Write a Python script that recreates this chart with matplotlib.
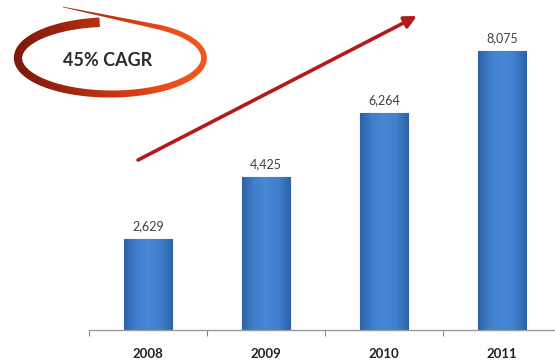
import numpy as np
import matplotlib.pyplot as plt
from matplotlib.patches import FancyArrowPatch, Polygon
from matplotlib.colors import LinearSegmentedColormap

years = ["2008", "2009", "2010", "2011"]
values = [2629, 4425, 6264, 8075]
cagr_label = "45% CAGR"

W, H = 555, 363
plt.rcParams['font.family'] = ['Lato', 'DejaVu Sans']

fig = plt.figure(figsize=(W / 100, H / 100), dpi=100)
fig.patch.set_facecolor('white')

# main bar axes (pixel layout: baseline at y=330, left boundary x=89)
ax = fig.add_axes([89 / W, 33 / H, 472 / W, 330 / H])
x = np.arange(len(years))
bars = ax.bar(x, values, width=0.41, color='#3b78c6', edgecolor='#2a5c9c',
              linewidth=0.8, zorder=2)

# shaded face for each bar, a little darker at the sides
shade = LinearSegmentedColormap.from_list(
    'shade', ['#2d62a8', '#3f7fcd', '#4787d4', '#3f7fcd', '#2d62a8'])
grad = np.linspace(0, 1, 64).reshape(1, -1)
for b in bars:
    x0, w, h = b.get_x(), b.get_width(), b.get_height()
    im = ax.imshow(grad, cmap=shade, extent=(x0, x0 + w, 0, h),
                   aspect='auto', zorder=2.5, interpolation='bicubic')
    im.set_clip_path(b)

for xi, v in zip(x, values):
    ax.annotate(f"{v:,}", (xi, v), xytext=(0, 5), textcoords='offset points',
                ha='center', va='bottom', fontsize=9, color='#404040')

ax.set_xlim(-0.5, 3.5)
ax.set_ylim(0, 9540)
ax.set_xticks(x)
ax.set_xticklabels(years, fontsize=9.5, fontweight='bold', color='#222222')
ax.tick_params(axis='x', which='major', length=0, pad=13)
ax.set_xticks(np.arange(-0.5, 4, 1), minor=True)
ax.tick_params(axis='x', which='minor', length=4, width=0.8,
               color='#888888', direction='out')
ax.set_yticks([])
for s in ['top', 'right', 'left']:
    ax.spines[s].set_visible(False)
ax.spines['bottom'].set_color('#999999')
ax.spines['bottom'].set_linewidth(1.0)
ax.patch.set_alpha(0)

# overlay in pixel coordinates for the growth arrow and the swoosh
ov = fig.add_axes([0, 0, 1, 1])
ov.set_xlim(0, W)
ov.set_ylim(H, 0)
ov.axis('off')
ov.patch.set_alpha(0)

arrow = FancyArrowPatch((138, 160), (417, 16), arrowstyle='-|>',
                        mutation_scale=18, color='#b31b1b', lw=2.6,
                        shrinkA=0, shrinkB=0)
ov.add_patch(arrow)

# swoosh: elliptical stroke with a tapering tail, built as a filled outline
cx, cy, a, b = 111, 58, 93, 36
t = np.radians(np.linspace(97, 418.7, 300))
ex = cx + a * np.cos(t)
ey = cy - b * np.sin(t)
tail_x = np.linspace(ex[-1], 63, 60)[1:]
tail_y = np.linspace(ey[-1], 7, 60)[1:]
px = np.concatenate([ex, tail_x])
py = np.concatenate([ey, tail_y])
frac = np.linspace(0, 1, len(px))
half = np.where(frac < 0.83, 9.5 - 4.5 * frac / 0.83,
                5.0 - 4.4 * (frac - 0.83) / 0.17) / 2
dx = np.gradient(px)
dy = np.gradient(py)
norm = np.hypot(dx, dy)
nx, ny = -dy / norm, dx / norm
outer = np.column_stack([px + nx * half, py + ny * half])
inner = np.column_stack([px - nx * half, py - ny * half])
outline = np.vstack([outer, inner[::-1]])
poly = Polygon(outline, closed=True, facecolor='none', edgecolor='none')
ov.add_patch(poly)
swoosh_cmap = LinearSegmentedColormap.from_list(
    'swoosh', ['#7a180c', '#9c2410', '#c8350f', '#ea4a1a', '#f45a22'])
sg = np.linspace(0, 1, 128).reshape(1, -1)
sim = ov.imshow(sg, cmap=swoosh_cmap, extent=(10, 215, 100, 0),
                aspect='auto', interpolation='bicubic', zorder=3)
sim.set_clip_path(poly)
ov.set_xlim(0, W)
ov.set_ylim(H, 0)

ov.text(108, 60, cagr_label, ha='center', va='center', fontsize=13,
        fontweight='bold', color='#2b2b2b')

fig.savefig('out.png', dpi=100)
